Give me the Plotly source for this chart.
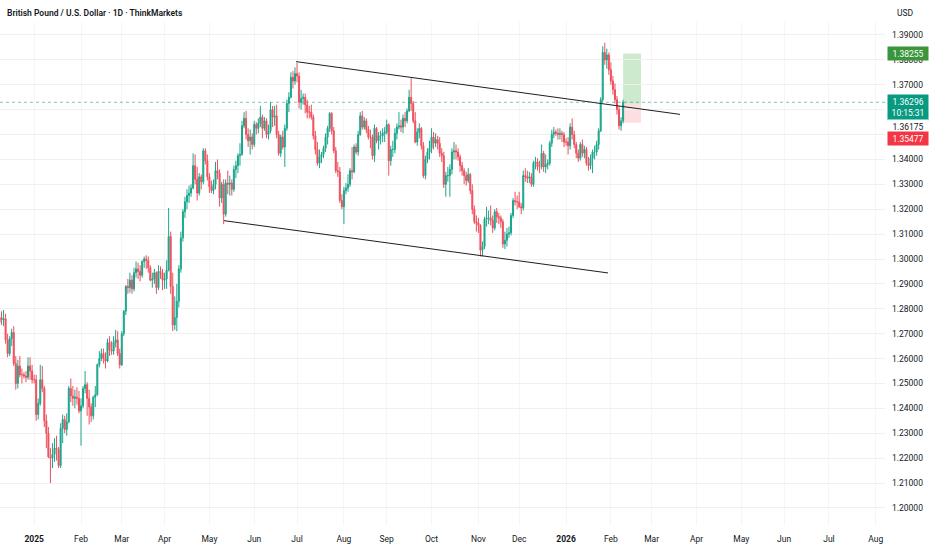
import pandas as pd
import plotly.graph_objects as go

# ---- daily GBPUSD candles, Dec 2 2024 .. Feb 10 2026 (weekdays) ----
opens = [
    # Dec 2024
    1.2735, 1.2660, 1.2670, 1.2700, 1.2740, 1.2745, 1.2765, 1.2755, 1.2760, 1.2675, 1.2620,
    1.2680, 1.2705, 1.2580, 1.2500, 1.2570, 1.2535, 1.2535, 1.2530, 1.2525, 1.2570, 1.2550,
    # Jan 2025
    1.2515, 1.2515, 1.2375, 1.2420, 1.2515, 1.2480, 1.2350, 1.2300, 1.2205, 1.2200, 1.2215,
    1.2240, 1.2235, 1.2170, 1.2320, 1.2355, 1.2315, 1.2345, 1.2480, 1.2450, 1.2440, 1.2445, 1.2440,
    # Feb 2025
    1.2390, 1.2410, 1.2480, 1.2495, 1.2440, 1.2405, 1.2370, 1.2445, 1.2455, 1.2575,
    1.2600, 1.2620, 1.2600, 1.2590, 1.2665, 1.2635, 1.2630, 1.2665, 1.2675, 1.2620,
    # Mar 2025
    1.2575, 1.2700, 1.2790, 1.2890, 1.2885, 1.2915, 1.2880, 1.2945, 1.2960, 1.2950, 1.2935,
    1.2990, 1.3000, 1.2995, 1.2965, 1.2915, 1.2920, 1.2945, 1.2885, 1.2950, 1.2945,
    # Apr 2025
    1.2915, 1.2920, 1.2955, 1.3090, 1.2890, 1.2735, 1.2765, 1.2830, 1.2960, 1.3085, 1.3190,
    1.3230, 1.3255, 1.3265, 1.3285, 1.3375, 1.3320, 1.3265, 1.3330, 1.3310, 1.3435, 1.3395,
    # May 2025
    1.3330, 1.3290, 1.3275, 1.3300, 1.3355, 1.3345, 1.3245, 1.3300, 1.3180, 1.3305, 1.3300,
    1.3305, 1.3280, 1.3360, 1.3375, 1.3415, 1.3420, 1.3535, 1.3565, 1.3500, 1.3475, 1.3490,
    # Jun 2025
    1.3460, 1.3540, 1.3525, 1.3545, 1.3570, 1.3525, 1.3555, 1.3500, 1.3515, 1.3600, 1.3570,
    1.3575, 1.3500, 1.3425, 1.3490, 1.3450, 1.3525, 1.3625, 1.3650, 1.3730, 1.3715,
    # Jul 2025
    1.3745, 1.3735, 1.3630, 1.3645, 1.3650, 1.3620, 1.3590, 1.3590, 1.3570, 1.3495, 1.3440, 1.3385,
    1.3410, 1.3420, 1.3445, 1.3490, 1.3525, 1.3585, 1.3515, 1.3435, 1.3355, 1.3350, 1.3235,
    # Aug 2025
    1.3210, 1.3275, 1.3285, 1.3300, 1.3355, 1.3350, 1.3450, 1.3430, 1.3500, 1.3575, 1.3530,
    1.3555, 1.3520, 1.3490, 1.3490, 1.3415, 1.3525, 1.3475, 1.3495, 1.3495, 1.3505,
    # Sep 2025
    1.3510, 1.3540, 1.3395, 1.3440, 1.3440, 1.3505, 1.3530, 1.3535, 1.3530, 1.3565, 1.3555,
    1.3595, 1.3650, 1.3625, 1.3555, 1.3470, 1.3510, 1.3525, 1.3455, 1.3335, 1.3400, 1.3430,
    # Oct 2025
    1.3445, 1.3490, 1.3465, 1.3480, 1.3465, 1.3425, 1.3415, 1.3300, 1.3335, 1.3335, 1.3360, 1.3430,
    1.3435, 1.3430, 1.3410, 1.3375, 1.3355, 1.3335, 1.3315, 1.3340, 1.3275, 1.3200, 1.3150,
    # Nov 2025
    1.3145, 1.3135, 1.3035, 1.3050, 1.3160, 1.3165, 1.3165, 1.3155, 1.3125, 1.3190,
    1.3170, 1.3165, 1.3150, 1.3060, 1.3075, 1.3100, 1.3105, 1.3175, 1.3235, 1.3230,
    # Dec 2025
    1.3230, 1.3210, 1.3205, 1.3335, 1.3330, 1.3325, 1.3330, 1.3300, 1.3385, 1.3390, 1.3370, 1.3370,
    1.3425, 1.3370, 1.3380, 1.3385, 1.3465, 1.3500, 1.3510, 1.3505, 1.3500, 1.3505, 1.3500,
    # Jan 2026
    1.3470, 1.3470, 1.3455, 1.3530, 1.3500, 1.3460, 1.3425, 1.3405, 1.3460, 1.3425, 1.3440,
    1.3385, 1.3375, 1.3405, 1.3430, 1.3430, 1.3460, 1.3515, 1.3640, 1.3830, 1.3800, 1.3820,
    # Feb 2026
    1.3760, 1.3715, 1.3680, 1.3640, 1.3600, 1.3535, 1.3555,
]
highs = [
    1.2745, 1.2690, 1.2715, 1.2765, 1.2770, 1.2785, 1.2790, 1.2795, 1.2780, 1.2700, 1.2690,
    1.2720, 1.2730, 1.2610, 1.2595, 1.2610, 1.2560, 1.2545, 1.2550, 1.2605, 1.2605, 1.2575,
    1.2535, 1.2535, 1.2440, 1.2575, 1.2570, 1.2490, 1.2375, 1.2325, 1.2240, 1.2260, 1.2280,
    1.2290, 1.2245, 1.2340, 1.2375, 1.2370, 1.2380, 1.2490, 1.2520, 1.2490, 1.2475, 1.2485, 1.2470,
    1.2440, 1.2490, 1.2550, 1.2505, 1.2475, 1.2420, 1.2450, 1.2490, 1.2580, 1.2630,
    1.2640, 1.2640, 1.2625, 1.2680, 1.2690, 1.2670, 1.2690, 1.2715, 1.2710, 1.2640,
    1.2710, 1.2795, 1.2895, 1.2920, 1.2945, 1.2935, 1.2965, 1.2990, 1.2985, 1.2975, 1.2995,
    1.3010, 1.3015, 1.3010, 1.2975, 1.2945, 1.2960, 1.2950, 1.2975, 1.2970, 1.2960,
    1.2945, 1.2995, 1.3205, 1.3110, 1.2945, 1.2850, 1.2900, 1.2975, 1.3110, 1.3200, 1.3250,
    1.3280, 1.3295, 1.3300, 1.3425, 1.3420, 1.3370, 1.3345, 1.3340, 1.3445, 1.3445, 1.3420,
    1.3345, 1.3315, 1.3320, 1.3390, 1.3400, 1.3360, 1.3310, 1.3320, 1.3320, 1.3355, 1.3335,
    1.3320, 1.3375, 1.3395, 1.3425, 1.3465, 1.3555, 1.3590, 1.3595, 1.3525, 1.3520, 1.3505,
    1.3555, 1.3550, 1.3565, 1.3615, 1.3580, 1.3570, 1.3565, 1.3540, 1.3630, 1.3615, 1.3615,
    1.3620, 1.3515, 1.3500, 1.3515, 1.3540, 1.3640, 1.3670, 1.3750, 1.3755, 1.3770,
    1.3788, 1.3750, 1.3680, 1.3665, 1.3665, 1.3640, 1.3615, 1.3620, 1.3580, 1.3515, 1.3470, 1.3440,
    1.3430, 1.3455, 1.3505, 1.3535, 1.3590, 1.3590, 1.3530, 1.3450, 1.3390, 1.3370, 1.3260,
    1.3290, 1.3305, 1.3340, 1.3365, 1.3450, 1.3460, 1.3465, 1.3515, 1.3590, 1.3595, 1.3570,
    1.3565, 1.3535, 1.3520, 1.3500, 1.3540, 1.3530, 1.3510, 1.3515, 1.3525, 1.3530,
    1.3560, 1.3545, 1.3455, 1.3475, 1.3525, 1.3545, 1.3590, 1.3560, 1.3580, 1.3590, 1.3605,
    1.3680, 1.3726, 1.3635, 1.3590, 1.3525, 1.3545, 1.3530, 1.3470, 1.3415, 1.3445, 1.3475,
    1.3525, 1.3510, 1.3505, 1.3495, 1.3490, 1.3445, 1.3430, 1.3350, 1.3370, 1.3380, 1.3445, 1.3470,
    1.3460, 1.3445, 1.3420, 1.3390, 1.3365, 1.3350, 1.3365, 1.3345, 1.3300, 1.3215, 1.3175,
    1.3165, 1.3140, 1.3070, 1.3170, 1.3210, 1.3195, 1.3215, 1.3175, 1.3200, 1.3205,
    1.3185, 1.3175, 1.3160, 1.3110, 1.3125, 1.3130, 1.3185, 1.3245, 1.3270, 1.3255,
    1.3270, 1.3225, 1.3355, 1.3365, 1.3355, 1.3350, 1.3345, 1.3395, 1.3410, 1.3405, 1.3395, 1.3460,
    1.3435, 1.3420, 1.3400, 1.3475, 1.3520, 1.3530, 1.3520, 1.3525, 1.3525, 1.3515, 1.3510,
    1.3485, 1.3490, 1.3545, 1.3565, 1.3515, 1.3470, 1.3440, 1.3470, 1.3480, 1.3455, 1.3450,
    1.3410, 1.3420, 1.3440, 1.3455, 1.3475, 1.3525, 1.3650, 1.3855, 1.3869, 1.3845, 1.3830,
    1.3790, 1.3735, 1.3705, 1.3655, 1.3615, 1.3570, 1.3640,
]
lows = [
    1.2615, 1.2635, 1.2660, 1.2690, 1.2720, 1.2730, 1.2735, 1.2730, 1.2660, 1.2605, 1.2610,
    1.2650, 1.2570, 1.2475, 1.2480, 1.2525, 1.2500, 1.2520, 1.2505, 1.2515, 1.2515, 1.2500,
    1.2500, 1.2350, 1.2355, 1.2410, 1.2465, 1.2325, 1.2240, 1.2200, 1.2100, 1.2160, 1.2185,
    1.2190, 1.2160, 1.2160, 1.2260, 1.2300, 1.2290, 1.2340, 1.2425, 1.2410, 1.2400, 1.2415, 1.2380,
    1.2250, 1.2400, 1.2460, 1.2370, 1.2335, 1.2345, 1.2355, 1.2405, 1.2450, 1.2565,
    1.2590, 1.2580, 1.2560, 1.2585, 1.2610, 1.2615, 1.2615, 1.2645, 1.2610, 1.2560,
    1.2570, 1.2690, 1.2775, 1.2860, 1.2865, 1.2860, 1.2870, 1.2925, 1.2920, 1.2910, 1.2925,
    1.2965, 1.2960, 1.2945, 1.2910, 1.2885, 1.2900, 1.2860, 1.2875, 1.2920, 1.2875,
    1.2880, 1.2880, 1.2950, 1.2860, 1.2710, 1.2715, 1.2710, 1.2805, 1.2945, 1.3070, 1.3165,
    1.3200, 1.3225, 1.3250, 1.3280, 1.3300, 1.3235, 1.3255, 1.3280, 1.3300, 1.3380, 1.3315,
    1.3265, 1.3265, 1.3260, 1.3280, 1.3320, 1.3210, 1.3225, 1.3140, 1.3170, 1.3260, 1.3255,
    1.3255, 1.3270, 1.3325, 1.3345, 1.3375, 1.3415, 1.3525, 1.3480, 1.3450, 1.3420, 1.3440,
    1.3450, 1.3500, 1.3505, 1.3530, 1.3485, 1.3515, 1.3485, 1.3480, 1.3505, 1.3530, 1.3535,
    1.3485, 1.3415, 1.3410, 1.3440, 1.3370, 1.3515, 1.3590, 1.3645, 1.3685, 1.3700,
    1.3710, 1.3605, 1.3600, 1.3620, 1.3585, 1.3565, 1.3565, 1.3560, 1.3480, 1.3420, 1.3375, 1.3365,
    1.3385, 1.3405, 1.3430, 1.3460, 1.3510, 1.3500, 1.3425, 1.3345, 1.3330, 1.3225, 1.3200,
    1.3140, 1.3260, 1.3270, 1.3290, 1.3320, 1.3345, 1.3420, 1.3415, 1.3495, 1.3520, 1.3520,
    1.3505, 1.3480, 1.3445, 1.3400, 1.3390, 1.3465, 1.3440, 1.3460, 1.3470, 1.3470,
    1.3500, 1.3335, 1.3375, 1.3410, 1.3425, 1.3480, 1.3520, 1.3510, 1.3505, 1.3530, 1.3545,
    1.3590, 1.3595, 1.3545, 1.3465, 1.3455, 1.3485, 1.3440, 1.3325, 1.3320, 1.3385, 1.3400,
    1.3425, 1.3440, 1.3450, 1.3440, 1.3410, 1.3390, 1.3285, 1.3250, 1.3310, 1.3250, 1.3340, 1.3400,
    1.3400, 1.3395, 1.3350, 1.3335, 1.3300, 1.3295, 1.3305, 1.3260, 1.3180, 1.3140, 1.3110,
    1.3105, 1.3010, 1.3010, 1.3040, 1.3130, 1.3140, 1.3135, 1.3105, 1.3115, 1.3145,
    1.3140, 1.3125, 1.3045, 1.3040, 1.3050, 1.3085, 1.3095, 1.3165, 1.3215, 1.3200,
    1.3205, 1.3180, 1.3195, 1.3310, 1.3305, 1.3305, 1.3290, 1.3290, 1.3360, 1.3355, 1.3345, 1.3360,
    1.3350, 1.3345, 1.3360, 1.3375, 1.3450, 1.3485, 1.3495, 1.3480, 1.3480, 1.3470, 1.3450,
    1.3455, 1.3420, 1.3440, 1.3480, 1.3445, 1.3405, 1.3390, 1.3395, 1.3410, 1.3405, 1.3375,
    1.3355, 1.3360, 1.3345, 1.3400, 1.3415, 1.3440, 1.3510, 1.3630, 1.3780, 1.3765, 1.3740,
    1.3700, 1.3660, 1.3625, 1.3580, 1.3520, 1.3515, 1.3545,
]
closes = [
    1.2660, 1.2670, 1.2700, 1.2740, 1.2745, 1.2765, 1.2755, 1.2760, 1.2675, 1.2620, 1.2680,
    1.2705, 1.2580, 1.2500, 1.2570, 1.2535, 1.2535, 1.2530, 1.2525, 1.2570, 1.2550, 1.2515,
    1.2515, 1.2375, 1.2420, 1.2515, 1.2480, 1.2350, 1.2300, 1.2205, 1.2200, 1.2215, 1.2240,
    1.2235, 1.2170, 1.2320, 1.2355, 1.2315, 1.2345, 1.2480, 1.2450, 1.2440, 1.2445, 1.2440, 1.2390,
    1.2410, 1.2480, 1.2495, 1.2440, 1.2405, 1.2370, 1.2445, 1.2455, 1.2575, 1.2600,
    1.2620, 1.2600, 1.2590, 1.2665, 1.2635, 1.2630, 1.2665, 1.2675, 1.2620, 1.2575,
    1.2700, 1.2790, 1.2890, 1.2885, 1.2915, 1.2880, 1.2945, 1.2960, 1.2950, 1.2935, 1.2990,
    1.3000, 1.2995, 1.2965, 1.2915, 1.2920, 1.2945, 1.2885, 1.2950, 1.2945, 1.2915,
    1.2920, 1.2955, 1.3090, 1.2890, 1.2735, 1.2765, 1.2830, 1.2960, 1.3085, 1.3190, 1.3230,
    1.3255, 1.3265, 1.3285, 1.3375, 1.3320, 1.3265, 1.3330, 1.3310, 1.3435, 1.3395, 1.3330,
    1.3290, 1.3275, 1.3300, 1.3355, 1.3345, 1.3245, 1.3300, 1.3180, 1.3305, 1.3300, 1.3305,
    1.3280, 1.3360, 1.3375, 1.3415, 1.3420, 1.3535, 1.3565, 1.3500, 1.3475, 1.3490, 1.3460,
    1.3540, 1.3525, 1.3545, 1.3570, 1.3525, 1.3555, 1.3500, 1.3515, 1.3600, 1.3570, 1.3575,
    1.3500, 1.3425, 1.3490, 1.3450, 1.3525, 1.3625, 1.3650, 1.3730, 1.3715, 1.3745,
    1.3735, 1.3630, 1.3645, 1.3650, 1.3620, 1.3590, 1.3590, 1.3570, 1.3495, 1.3440, 1.3385, 1.3410,
    1.3420, 1.3445, 1.3490, 1.3525, 1.3585, 1.3515, 1.3435, 1.3355, 1.3350, 1.3235, 1.3210,
    1.3275, 1.3285, 1.3300, 1.3355, 1.3350, 1.3450, 1.3430, 1.3500, 1.3575, 1.3530, 1.3555,
    1.3520, 1.3490, 1.3490, 1.3415, 1.3525, 1.3475, 1.3495, 1.3495, 1.3505, 1.3510,
    1.3540, 1.3395, 1.3440, 1.3440, 1.3505, 1.3530, 1.3535, 1.3530, 1.3565, 1.3555, 1.3595,
    1.3650, 1.3625, 1.3555, 1.3470, 1.3510, 1.3525, 1.3455, 1.3335, 1.3400, 1.3430, 1.3445,
    1.3490, 1.3465, 1.3480, 1.3465, 1.3425, 1.3415, 1.3300, 1.3335, 1.3335, 1.3360, 1.3430, 1.3435,
    1.3430, 1.3410, 1.3375, 1.3355, 1.3335, 1.3315, 1.3340, 1.3275, 1.3200, 1.3150, 1.3145,
    1.3135, 1.3035, 1.3050, 1.3160, 1.3165, 1.3165, 1.3155, 1.3125, 1.3190, 1.3170,
    1.3165, 1.3150, 1.3060, 1.3075, 1.3100, 1.3105, 1.3175, 1.3235, 1.3230, 1.3230,
    1.3210, 1.3205, 1.3335, 1.3330, 1.3325, 1.3330, 1.3300, 1.3385, 1.3390, 1.3370, 1.3370, 1.3425,
    1.3370, 1.3380, 1.3385, 1.3465, 1.3500, 1.3510, 1.3505, 1.3500, 1.3505, 1.3500, 1.3470,
    1.3470, 1.3455, 1.3530, 1.3500, 1.3460, 1.3425, 1.3405, 1.3460, 1.3425, 1.3440, 1.3385,
    1.3375, 1.3405, 1.3430, 1.3430, 1.3460, 1.3515, 1.3640, 1.3830, 1.3800, 1.3820, 1.3760,
    1.3715, 1.3680, 1.3640, 1.3600, 1.3535, 1.3555, 1.36296,
]

# month tick marks (first trading day of each month)
tick_dates = ["2025-01-01", "2025-02-03", "2025-03-03", "2025-04-01", "2025-05-01",
              "2025-06-02", "2025-07-01", "2025-08-01", "2025-09-01", "2025-10-01",
              "2025-11-03", "2025-12-01", "2026-01-01", "2026-02-02", "2026-03-02",
              "2026-04-01", "2026-05-01", "2026-06-01", "2026-07-01", "2026-08-03"]
tick_labels = ["<b>2025</b>", "Feb", "Mar", "Apr", "May", "Jun", "Jul", "Aug", "Sep",
               "Oct", "Nov", "Dec", "<b>2026</b>", "Feb", "Mar", "Apr", "May", "Jun",
               "Jul", "Aug"]

# price scale: levels every 0.01; 1.36 and 1.35 sit under the price tags
price_levels = [1.20, 1.21, 1.22, 1.23, 1.24, 1.25, 1.26, 1.27, 1.28, 1.29,
                1.30, 1.31, 1.32, 1.33, 1.34, 1.35, 1.36, 1.37, 1.38, 1.39]
covered_levels = [1.35, 1.36]

# drawn channel
upper_x = ["2025-06-30 12:00", "2026-03-19 22:00"]
upper_y = [1.3793, 1.3581]
lower_x = ["2025-05-12 05:00", "2026-01-29 14:00"]
lower_y = [1.3154, 1.2944]

# long position tool
pos_x = ["2026-02-10", "2026-02-20 19:00"]
entry_price = 1.3625
target_price = 1.38255
stop_price = 1.35477
last_price = 1.36296
prev_close = 1.36175
countdown = "10:15:31"

dates = pd.bdate_range("2024-12-02", "2026-02-10")
assert len(dates) == len(opens) == len(highs) == len(lows) == len(closes)

UP = "#089981"
DOWN = "#f23645"
CANDLE_UP = "#1aa68c"
CANDLE_DOWN = "#f04e5c"
TXT = "#131722"
FONT = "Roboto, Liberation Sans, sans-serif"

fig = go.Figure()
fig.add_trace(go.Candlestick(
    x=dates, open=opens, high=highs, low=lows, close=closes,
    increasing=dict(line=dict(color=CANDLE_UP, width=1), fillcolor=CANDLE_UP),
    decreasing=dict(line=dict(color=CANDLE_DOWN, width=1), fillcolor=CANDLE_DOWN),
    whiskerwidth=0, hoverinfo="skip", showlegend=False,
))

# channel lines
for lx, ly in [(upper_x, upper_y), (lower_x, lower_y)]:
    fig.add_trace(go.Scatter(x=lx, y=ly, mode="lines",
                             line=dict(color="#1e1e1e", width=1),
                             hoverinfo="skip", showlegend=False))

# position box (target / stop zones)
fig.add_shape(type="rect", xref="x", yref="y", x0=pos_x[0], x1=pos_x[1],
              y0=entry_price, y1=target_price, line=dict(width=0),
              fillcolor="rgba(76,175,80,0.28)", layer="below")
fig.add_shape(type="rect", xref="x", yref="y", x0=pos_x[0], x1=pos_x[1],
              y0=stop_price, y1=entry_price, line=dict(width=0),
              fillcolor="rgba(242,54,69,0.16)", layer="below")

# last price dotted line
fig.add_shape(type="line", xref="paper", yref="y", x0=0, x1=1,
              y0=last_price, y1=last_price,
              line=dict(color="rgba(8,153,129,0.55)", width=1, dash="dot"))


# price scale labels
def price_tag(price, text, bg, fg, yshift=0, h=11):
    fig.add_annotation(xref="paper", yref="y", x=1, y=price, xanchor="left",
                       yanchor="middle", xshift=2, yshift=yshift, text=text,
                       showarrow=False, width=38, height=h, bgcolor=bg,
                       borderpad=1, align="center",
                       font=dict(family=FONT, size=8.5, color=fg))


price_tag(target_price, f"{target_price:.5f}", "#3b963b", "#ffffff")
price_tag(last_price, f"{last_price:.5f}<br>{countdown}", UP, "#ffffff",
          yshift=-5, h=23)
price_tag(prev_close, f"{prev_close:.5f}", "#ffffff", TXT, yshift=-21)
price_tag(stop_price, f"{stop_price:.5f}", DOWN, "#ffffff", yshift=-16)

fig.add_annotation(xref="paper", yref="paper", x=0, y=1, xanchor="left",
                   yanchor="middle", xshift=5, yshift=9, showarrow=False,
                   text="British Pound / U.S. Dollar · 1D · ThinkMarkets",
                   font=dict(family=FONT, size=8.5, color=TXT, weight=600))
fig.add_annotation(xref="paper", yref="paper", x=1, y=1, xanchor="left",
                   yanchor="middle", xshift=10, yshift=9, showarrow=False,
                   text="USD", font=dict(family=FONT, size=8.5, color=TXT))

fig.update_layout(
    width=932, height=550,
    margin=dict(l=0, r=47, t=22, b=25),
    paper_bgcolor="#ffffff", plot_bgcolor="#ffffff",
    font=dict(family=FONT, size=8.5, color=TXT),
    showlegend=False, hovermode=False,
)
fig.update_xaxes(
    range=["2024-12-09 06:00", "2026-08-07 12:00"],
    rangebreaks=[dict(bounds=["sat", "mon"])],
    rangeslider=dict(visible=False),
    tickvals=tick_dates, ticktext=tick_labels,
    showgrid=True, gridcolor="#f5f5f5", gridwidth=1,
    zeroline=False, showline=False, ticks="",
    ticklabelstandoff=7, tickfont=dict(size=8.5, color=TXT),
)
fig.update_yaxes(
    range=[1.19313, 1.39522], side="right",
    tickvals=price_levels,
    ticktext=["" if p in covered_levels else f"{p:.5f}" for p in price_levels],
    showgrid=True, gridcolor="#f0f0f0", gridwidth=1,
    zeroline=False, showline=False, ticks="",
    ticklabelstandoff=6, tickfont=dict(size=8.5, color=TXT),
)

# page body has a default 8px margin; drop it so the chart sits at the window corner
fig.write_html("out.html", config={"displayModeBar": False},
               post_script="document.body.style.margin='0';")
